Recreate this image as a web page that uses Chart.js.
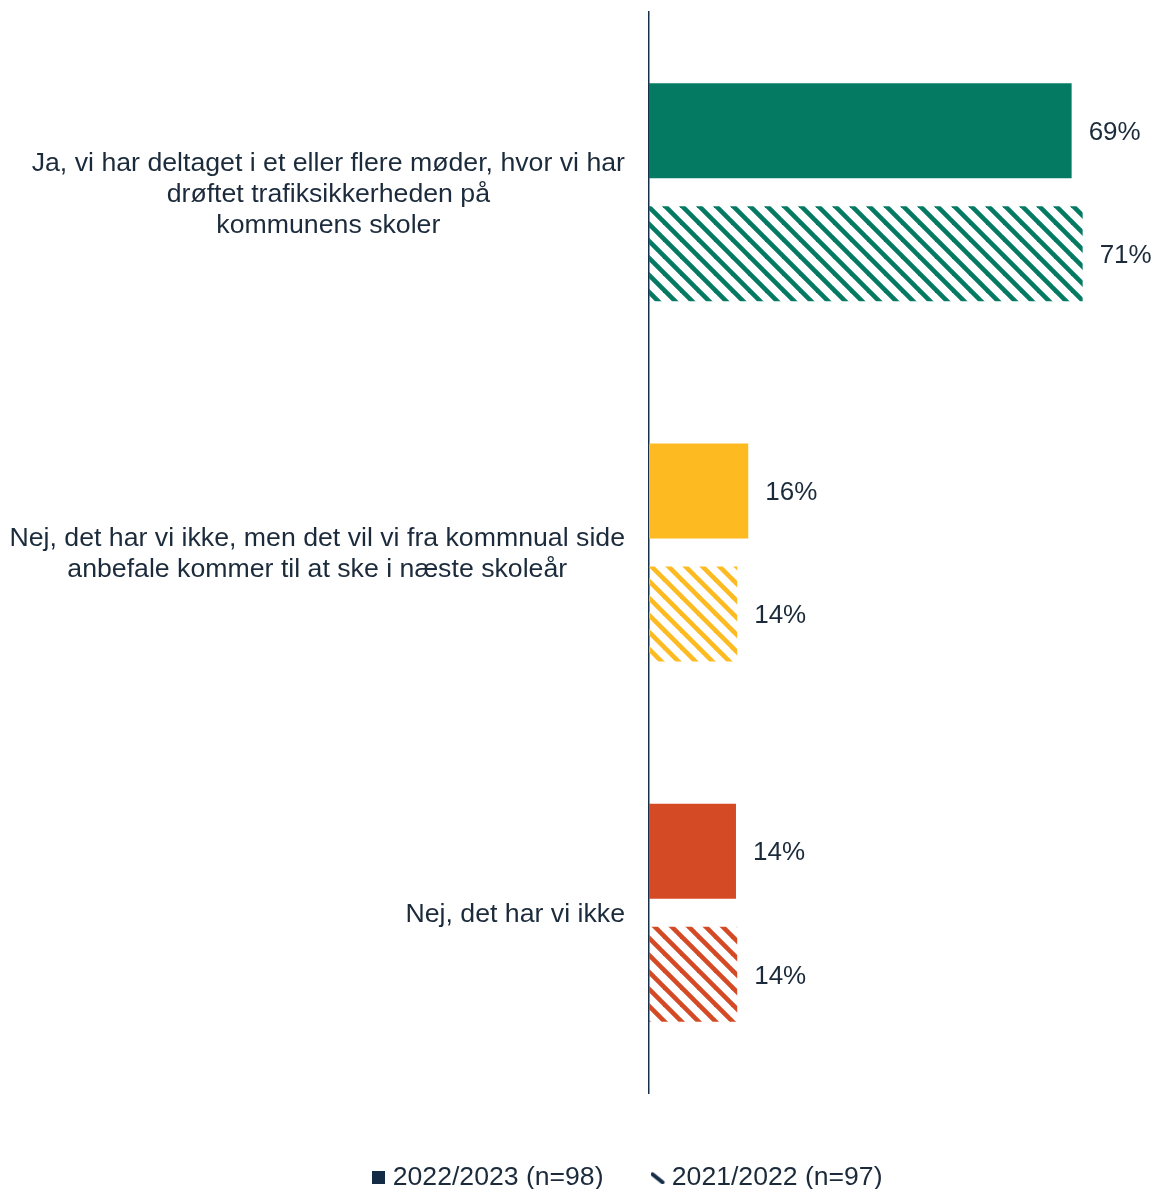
<!DOCTYPE html>
<html>
<head>
<meta charset="utf-8">
<script src="https://cdn.jsdelivr.net/npm/chart.js@4/dist/chart.umd.min.js"></script>
<style>
  body { margin: 0; background: #ffffff; }
  #wrap { width: 1157px; height: 1189px; }
</style>
</head>
<body>
<div id="wrap"><canvas id="chart" width="1157" height="1189"></canvas></div>
<script>
// data
var categories = [
    ["Ja, vi har deltaget i et eller flere møder, hvor vi har", "drøftet trafiksikkerheden på", "kommunens skoler"],
    ["Nej, det har vi ikke, men det vil vi fra kommnual side", "anbefale kommer til at ske i næste skoleår"],
    ["Nej, det har vi ikke"]
];
var seriesNames = ["2022/2023 (n=98)", "2021/2022 (n=97)"];
var values2023 = [69.0, 16.2, 14.2];
var values2022 = [70.8, 14.4, 14.4];

var barColors = ["#047a62", "#fdbb21", "#d44a25"];
var textColor = "#1c2b3b";
var axisColor = "#17304a";
var fontFamily = "'Liberation Sans', Arial, sans-serif";

function makeHatch(color) {
    var size = 17;
    var c = document.createElement("canvas");
    c.width = size;
    c.height = size;
    var g = c.getContext("2d");
    g.strokeStyle = color;
    g.lineWidth = 4.6;
    [-size, 0, size].forEach(function (off) {
        g.beginPath();
        g.moveTo(off - 2, -2);
        g.lineTo(off + size + 2, size + 2);
        g.stroke();
    });
    return g.createPattern(c, "repeat");
}

function squareMarker() {
    var c = document.createElement("canvas");
    c.width = 13; c.height = 13;
    var g = c.getContext("2d");
    g.fillStyle = "#132b45";
    g.fillRect(0, 0, 13, 13);
    return c;
}

function slashMarker() {
    var c = document.createElement("canvas");
    c.width = 15; c.height = 13;
    var g = c.getContext("2d");
    g.strokeStyle = "#132b45";
    g.lineWidth = 4;
    g.lineCap = "round";
    g.beginPath();
    g.moveTo(2, 3);
    g.lineTo(12, 11);
    g.stroke();
    return c;
}

var hatchColors = barColors.map(makeHatch);
var markers = [squareMarker(), slashMarker()];

// category labels, centred lines, block right-aligned next to the axis
var categoryLabels = {
    id: "categoryLabels",
    afterDraw: function (chart) {
        var ctx = chart.ctx;
        var yScale = chart.scales.y;
        var right = chart.chartArea.left - 24;
        var lineH = 31;
        ctx.save();
        ctx.font = "26.7px " + fontFamily;
        ctx.fillStyle = textColor;
        ctx.textAlign = "center";
        ctx.textBaseline = "middle";
        categories.forEach(function (lines, i) {
            var widest = 0;
            lines.forEach(function (l) { widest = Math.max(widest, ctx.measureText(l).width); });
            var cx = right - widest / 2;
            var cy = yScale.getPixelForValue(i) + 2;
            var y0 = cy - (lines.length - 1) * lineH / 2;
            lines.forEach(function (l, k) {
                ctx.fillText(l, cx, y0 + k * lineH);
            });
        });
        ctx.restore();
    }
};

// value labels after each bar
var valueLabels = {
    id: "valueLabels",
    afterDatasetsDraw: function (chart) {
        var ctx = chart.ctx;
        ctx.save();
        ctx.font = "26px " + fontFamily;
        ctx.fillStyle = textColor;
        ctx.textAlign = "left";
        ctx.textBaseline = "middle";
        chart.data.datasets.forEach(function (ds, di) {
            chart.getDatasetMeta(di).data.forEach(function (bar, i) {
                ctx.fillText(Math.round(ds.data[i]) + "%", bar.x + 17, bar.y + 2);
            });
        });
        ctx.restore();
    }
};

var ctx = document.getElementById("chart").getContext("2d");
var chart = new Chart(ctx, {
    type: "bar",
    data: {
        labels: categories.map(function (c) { return c.join(" "); }),
        datasets: [
            {
                label: seriesNames[0],
                data: values2023,
                backgroundColor: barColors,
                categoryPercentage: 0.683,
                barPercentage: 0.772
            },
            {
                label: seriesNames[1],
                data: values2022,
                backgroundColor: hatchColors,
                categoryPercentage: 0.683,
                barPercentage: 0.772
            }
        ]
    },
    options: {
        indexAxis: "y",
        responsive: false,
        animation: false,
        devicePixelRatio: 1,
        layout: { padding: { top: 12, right: 18, left: 122, bottom: -12 } },
        scales: {
            x: {
                min: 0,
                max: 80,
                display: true,
                grid: { display: false },
                border: { display: false },
                ticks: { display: false },
                afterFit: function (s) { s.height = 17.4; }
            },
            y: {
                grid: { display: false },
                border: { display: true, color: axisColor, width: 1.5 },
                ticks: { display: false },
                afterFit: function (s) { s.width = 527; }
            }
        },
        plugins: {
            tooltip: { enabled: false },
            legend: {
                position: "bottom",
                labels: {
                    color: textColor,
                    font: { size: 26.6, family: fontFamily },
                    padding: 54,
                    boxWidth: 1,
                    boxHeight: 13,
                    usePointStyle: true,
                    generateLabels: function () {
                        return seriesNames.map(function (n, i) {
                            return {
                                text: n,
                                pointStyle: markers[i],
                                fillStyle: "#132b45",
                                strokeStyle: "#132b45",
                                lineWidth: 0,
                                hidden: false,
                                datasetIndex: i,
                                fontColor: textColor
                            };
                        });
                    }
                }
            }
        }
    },
    plugins: [categoryLabels, valueLabels]
});
</script>
</body>
</html>
